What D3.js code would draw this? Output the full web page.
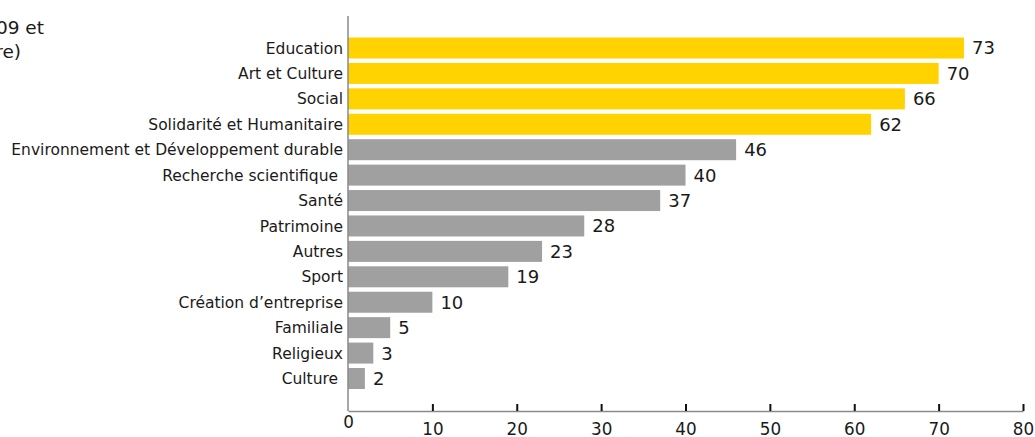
<!DOCTYPE html>
<html><head><meta charset="utf-8">
<script src="https://cdn.jsdelivr.net/npm/d3@7"></script>
<style>body{margin:0;background:#fff}svg{display:block}text{font-family:"DejaVu Sans",sans-serif;fill:#1a1a1a}</style>
</head><body><svg id="c" width="1035" height="437"></svg>
<script>
const categories = ["Education","Art et Culture","Social","Solidarité et Humanitaire","Environnement et Développement durable","Recherche scientifique ","Santé","Patrimoine","Autres","Sport","Création d’entreprise","Familiale","Religieux","Culture "];
const values = [73,70,66,62,46,40,37,28,23,19,10,5,3,2];
const highlighted = [true,true,true,true,false,false,false,false,false,false,false,false,false,false];
const xTicks = [0,10,20,30,40,50,60,70,80];
const titleLines = ["Répartition des fonds de dotation créés en 2009 et", "2010 par domaine d’intervention (en nombre)"];

const svg = d3.select("#c");
const x = d3.scaleLinear().domain([0,80]).range([348,1023]);
const y = d3.scaleBand().domain(categories).range([35.3,391.2]).paddingInner(0.174).paddingOuter(0.087);
const axisY = 411;

// title (cropped at left in the reference)
svg.append("text").attr("x",44).attr("y",34).attr("text-anchor","end").style("font-size","18.5px").text(titleLines[0]);
svg.append("text").attr("x",21).attr("y",58).attr("text-anchor","end").style("font-size","18.5px").text(titleLines[1]);

// bars
svg.selectAll("rect.bar").data(values).join("rect").attr("class","bar")
  .attr("x",x(0)).attr("y",(d,i)=>y(categories[i]))
  .attr("width",d=>x(d)-x(0)).attr("height",y.bandwidth())
  .attr("fill",(d,i)=>highlighted[i]?"#FFD200":"#A0A0A1");

// value labels
svg.selectAll("text.val").data(values).join("text").attr("class","val")
  .attr("x",d=>x(d)+8).attr("y",(d,i)=>y(categories[i])+y.bandwidth()/2)
  .attr("dy","0.36em").style("font-size","18px").text(d=>d);

// category labels
svg.selectAll("text.cat").data(categories).join("text").attr("class","cat")
  .attr("x",343).attr("y",d=>y(d)+y.bandwidth()/2).attr("dy","0.36em")
  .attr("text-anchor","end").style("font-size","15.5px").style("white-space","pre").text(d=>d);

// y axis line
svg.append("line").attr("x1",x(0)).attr("x2",x(0)).attr("y1",16).attr("y2",axisY).attr("stroke","#8a8a8a").attr("stroke-width",1.5);

// x axis
const xAxis = d3.axisBottom(x).tickValues(xTicks).tickSize(0).tickPadding(0);
const g = svg.append("g").attr("transform",`translate(0,${axisY})`).call(xAxis);
g.select(".domain").attr("stroke","#8a8a8a").attr("stroke-width",1.5);
g.selectAll(".tick").filter(d=>d!==0).append("line").attr("y1",0).attr("y2",-7).attr("stroke","#111").attr("stroke-width",2);
g.selectAll(".tick text").attr("y",d=>d===0?11:17.5).attr("dy","0.36em")
  .style("font-family","'DejaVu Sans',sans-serif").style("font-size","16.8px").attr("fill","#1a1a1a");
</script></body></html>
